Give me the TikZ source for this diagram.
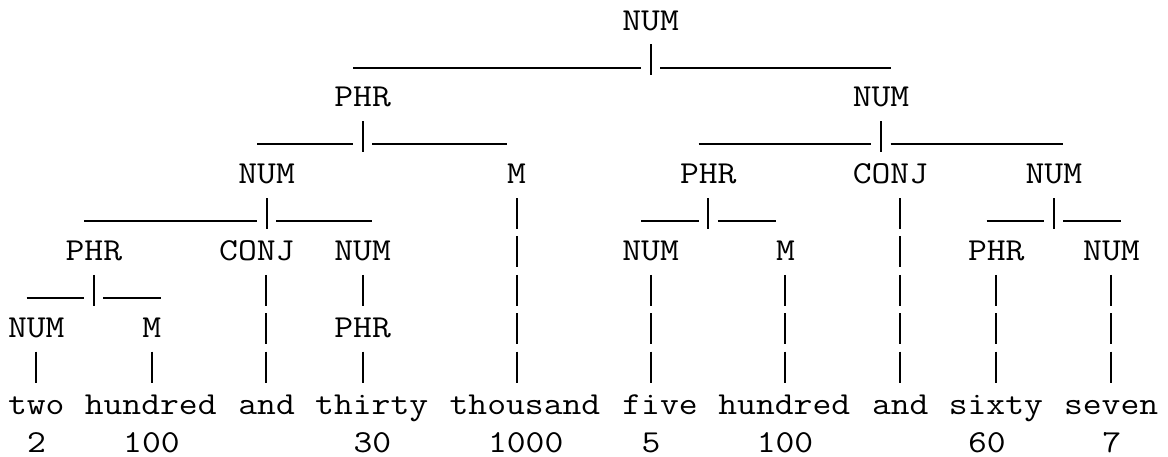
\documentclass[tikz,border=0pt]{standalone}
\usepackage{fontspec}
\setmonofont{Latin Modern Mono}[FakeStretch=1.142857]
\usetikzlibrary{calc}
% vertical chain of bars from a parent label to a child label (#2: x offset from parent centre)
\newcommand\vchain[3]{\draw[vbar] let \p1=(#1.base), \p2=(#3.base) in (\x1#2,\y1-10.8pt) -- (\x1#2,\y2+23.55pt);}
% branching: parent #1 (bar offset #2), leftmost child #3 (offset #4), rightmost child #5 (offset #6)
\newcommand\branch[6]{%
  \draw[vbar] let \p1=(#1.base) in (\x1#2,\y1-10.8pt) -- (\x1#2,\y1-34.05pt);
  \draw[hbar] let \p1=(#1.base), \p2=(#3.base), \p3=(#5.base) in
    (\x2#4,\y1-28.2pt) -- (\x1#2-7.2pt,\y1-28.2pt)
    (\x1#2+7.2pt,\y1-28.2pt) -- (\x3#6,\y1-28.2pt);}
\begin{document}
\begin{tikzpicture}[x=0.75pt,y=-0.75pt,
  lbl/.style={font=\ttfamily\fontsize{24}{28.8}\selectfont, anchor=base west, inner sep=0pt, outer sep=0pt, text=black},
  vbar/.style={draw=black, line width=1.5pt, line cap=butt, dash pattern=on 23.25pt off 5.55pt},
  hbar/.style={draw=black, line width=1.5pt, line cap=butt}]
\fill[white] (0,0) rectangle (1168,457);
\useasboundingbox (0,0) rectangle (1168,457);
% row 0
\node[lbl] (n0) at (622.4,30) {NUM};
% row 2
\node[lbl] (p2) at (334.4,106.8) {PHR};
\node[lbl] (n2) at (852.8,106.8) {NUM};
% row 4
\node[lbl] (n4a) at (238.4,183.6) {NUM};
\node[lbl] (m4) at (507.2,183.6) {M};
\node[lbl] (p4) at (680,183.6) {PHR};
\node[lbl] (c4) at (852.8,183.6) {CONJ};
\node[lbl] (n4b) at (1025.6,183.6) {NUM};
% row 6
\node[lbl] (p6a) at (65.6,260.4) {PHR};
\node[lbl] (c6) at (219.2,260.4) {CONJ};
\node[lbl] (n6a) at (334.4,260.4) {NUM};
\node[lbl] (n6b) at (622.4,260.4) {NUM};
\node[lbl] (m6) at (776,260.4) {M};
\node[lbl] (p6b) at (968,260.4) {PHR};
\node[lbl] (n6c) at (1083.2,260.4) {NUM};
% row 8
\node[lbl] (n8) at (8,337.2) {NUM};
\node[lbl] (m8) at (142.4,337.2) {M};
\node[lbl] (p8) at (334.4,337.2) {PHR};
% row 10: words
\node[lbl] (w1) at (8,414) {two};
\node[lbl] (w2) at (84.8,414) {hundred};
\node[lbl] (w3) at (238.4,414) {and};
\node[lbl] (w4) at (315.2,414) {thirty};
\node[lbl] (w5) at (449.6,414) {thousand};
\node[lbl] (w6) at (622.4,414) {five};
\node[lbl] (w7) at (718.4,414) {hundred};
\node[lbl] (w8) at (872,414) {and};
\node[lbl] (w9) at (948.8,414) {sixty};
\node[lbl] (w10) at (1064,414) {seven};
% row 11: values
\node[lbl] (v1) at (27.2,452.4) {2};
\node[lbl] (v2) at (123.2,452.4) {100};
\node[lbl] (v4) at (353.6,452.4) {30};
\node[lbl] (v5) at (488,452.4) {1000};
\node[lbl] (v6) at (641.6,452.4) {5};
\node[lbl] (v7) at (756.8,452.4) {100};
\node[lbl] (v9) at (968,452.4) {60};
\node[lbl] (v10) at (1102.4,452.4) {7};
% branchings
\branch{n0}{+0pt}{p2}{-7.2pt}{n2}{+7.2pt}
\branch{p2}{+0pt}{n4a}{-7.2pt}{m4}{-7.2pt}
\branch{n2}{+0pt}{p4}{-7.2pt}{n4b}{+7.2pt}
\branch{n4a}{+0pt}{p6a}{-7.2pt}{n6a}{+7.2pt}
\branch{p4}{+0pt}{n6b}{-7.2pt}{m6}{-7.2pt}
\branch{n4b}{+0pt}{p6b}{-7.2pt}{n6c}{+7.2pt}
\branch{p6a}{+0pt}{n8}{-7.2pt}{m8}{+7.2pt}
% single-child chains
\vchain{m4}{+0pt}{w5}
\vchain{c4}{+7.2pt}{w8}
\vchain{c6}{+7.2pt}{w3}
\vchain{n6a}{+0pt}{p8}
\vchain{p8}{+0pt}{w4}
\vchain{n6b}{+0pt}{w6}
\vchain{m6}{+0pt}{w7}
\vchain{p6b}{+0pt}{w9}
\vchain{n6c}{+0pt}{w10}
\vchain{n8}{+0pt}{w1}
\vchain{m8}{+0pt}{w2}
\end{tikzpicture}
\end{document}
